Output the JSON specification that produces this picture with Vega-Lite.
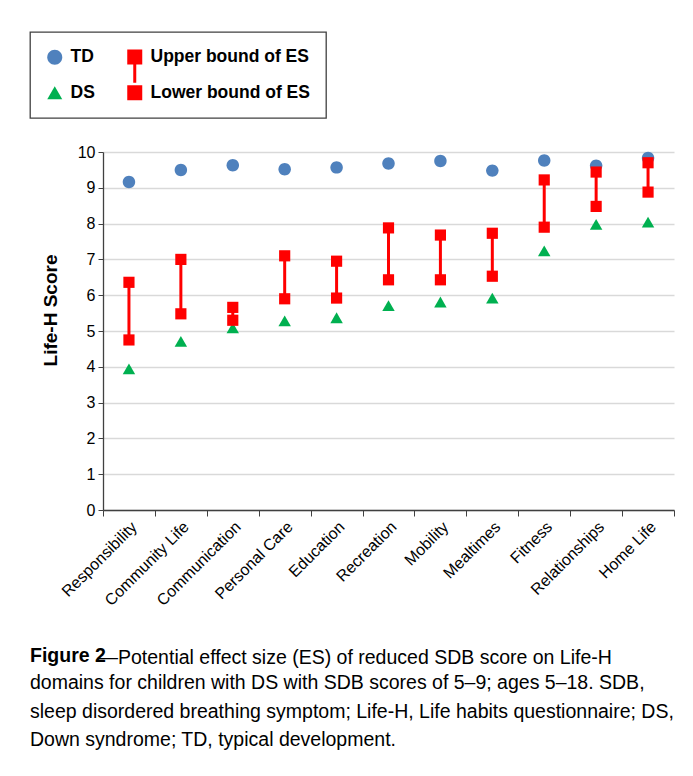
{
  "$schema": "https://vega.github.io/schema/vega-lite/v6.json",
  "width": 571,
  "height": 358,
  "autosize": {"type": "none"},
  "padding": {"left": 103, "top": 152, "right": 19, "bottom": 266},
  "background": "white",
  "data": {
    "values": [
      {"domain": "Responsibility", "TD": 9.16, "DS": 3.94, "Upper bound of ES": 6.36, "Lower bound of ES": 4.75},
      {"domain": "Community Life", "TD": 9.5, "DS": 4.71, "Upper bound of ES": 7.0, "Lower bound of ES": 5.48},
      {"domain": "Communication", "TD": 9.63, "DS": 5.09, "Upper bound of ES": 5.66, "Lower bound of ES": 5.3},
      {"domain": "Personal Care", "TD": 9.52, "DS": 5.28, "Upper bound of ES": 7.1, "Lower bound of ES": 5.9},
      {"domain": "Education", "TD": 9.57, "DS": 5.37, "Upper bound of ES": 6.95, "Lower bound of ES": 5.92},
      {"domain": "Recreation", "TD": 9.68, "DS": 5.71, "Upper bound of ES": 7.88, "Lower bound of ES": 6.43},
      {"domain": "Mobility", "TD": 9.75, "DS": 5.81, "Upper bound of ES": 7.68, "Lower bound of ES": 6.43},
      {"domain": "Mealtimes", "TD": 9.48, "DS": 5.92, "Upper bound of ES": 7.73, "Lower bound of ES": 6.53},
      {"domain": "Fitness", "TD": 9.76, "DS": 7.24, "Upper bound of ES": 9.22, "Lower bound of ES": 7.9},
      {"domain": "Relationships", "TD": 9.62, "DS": 7.98, "Upper bound of ES": 9.44, "Lower bound of ES": 8.48},
      {"domain": "Home Life", "TD": 9.83, "DS": 8.04, "Upper bound of ES": 9.7, "Lower bound of ES": 8.88}
    ]
  },
  "transform": [
    {"fold": ["TD", "DS", "Upper bound of ES", "Lower bound of ES"], "as": ["series", "score"]}
  ],
  "title": {
    "text": "Figure 2",
    "subtitle": [
      "domains for children with DS with SDB scores of 5–9; ages 5–18. SDB,",
      "sleep disordered breathing symptom; Life-H, Life habits questionnaire; DS,",
      "Down syndrome; TD, typical development."
    ],
    "orient": "bottom",
    "anchor": "start",
    "frame": "group",
    "dx": -73,
    "offset": -20,
    "font": "Liberation Sans",
    "fontSize": 19.5,
    "fontWeight": "bold",
    "color": "#000000",
    "subtitleFont": "Liberation Sans",
    "subtitleFontSize": 19.5,
    "subtitleFontWeight": "normal",
    "subtitleColor": "#000000",
    "subtitleLineHeight": 28.5,
    "subtitlePadding": 8
  },
  "encoding": {
    "x": {
      "field": "domain",
      "type": "nominal",
      "sort": null,
      "scale": {"paddingInner": 0, "paddingOuter": 0},
      "axis": {
        "title": "—Potential effect size (ES) of reduced SDB score on Life-H",
        "titleX": -5,
        "titleY": 153,
        "titleAlign": "left",
        "titleAnchor": null,
        "titleBaseline": "alphabetic",
        "titleAngle": 0,
        "titleFont": "Liberation Sans",
        "titleFontSize": 19.5,
        "titleFontWeight": "normal",
        "titleColor": "#000000",
        "tickBand": "extent",
        "labelAngle": -45,
        "labelAlign": "right",
        "labelBaseline": "middle",
        "labelOffset": 5,
        "labelPadding": 8,
        "labelFont": "Liberation Sans",
        "labelFontSize": 16,
        "labelColor": "#000000",
        "tickSize": 6,
        "tickColor": "#404040",
        "domainColor": "#404040",
        "grid": false
      }
    },
    "y": {
      "field": "score",
      "type": "quantitative",
      "scale": {"domain": [0, 10], "nice": false, "zero": true},
      "axis": {
        "title": "Life-H Score",
        "titleFont": "Liberation Sans",
        "titleFontSize": 19,
        "titleFontWeight": "bold",
        "titleColor": "#000000",
        "titleX": -43,
        "titleY": 158,
        "titleAlign": "center",
        "titleAngle": -90,
        "titleBaseline": "bottom",
        "values": [0, 1, 2, 3, 4, 5, 6, 7, 8, 9, 10],
        "tickCount": 20,
        "format": "d",
        "labelOverlap": false,
        "labelFont": "Liberation Sans",
        "labelFontSize": 16,
        "labelColor": "#000000",
        "labelPadding": 3,
        "tickSize": 5,
        "tickColor": "#404040",
        "domainColor": "#404040",
        "grid": true,
        "gridColor": "#d9d9d9"
      }
    }
  },
  "layer": [
    {
      "transform": [{"filter": {"field": "series", "equal": "Lower bound of ES"}}],
      "mark": {"type": "rule", "color": "#ff0000", "strokeWidth": 3},
      "encoding": {
        "y2": {"field": "Upper bound of ES"}
      }
    },
    {
      "transform": [{"filter": {"field": "series", "oneOf": ["TD", "DS"]}}],
      "mark": {"type": "point", "filled": true, "opacity": 1, "size": 155, "strokeWidth": 0},
      "encoding": {
        "color": {
          "field": "series",
          "type": "nominal",
          "scale": {
            "domain": ["TD", "Upper bound of ES", "DS", "Lower bound of ES"],
            "range": ["#4f81bd", "#ff0000", "#00b050", "#ff0000"]
          },
          "legend": {
            "title": null,
            "orient": "none",
            "legendX": -73,
            "legendY": -120,
            "columns": 2,
            "direction": "horizontal",
            "padding": 16,
            "strokeColor": "#404040",
            "fillColor": "#ffffff",
            "labelFont": "Liberation Sans",
            "labelFontSize": 17.5,
            "labelFontWeight": "bold",
            "labelColor": "#000000",
            "labelOffset": 7,
            "labelLimit": 300,
            "symbolSize": 225,
            "symbolOpacity": 1,
            "symbolStrokeWidth": 0,
            "rowPadding": 0,
            "columnPadding": 31
          }
        },
        "shape": {
          "field": "series",
          "type": "nominal",
          "scale": {
            "domain": ["TD", "Upper bound of ES", "DS", "Lower bound of ES"],
            "range": [
              "M1,0A1,1 0 1,1 -1,0A1,1 0 1,1 1,0Z M0,3.4",
              "M-1,-1H1V1H-1Z M-0.2,1H0.2V3.45H-0.2Z",
              "triangle-up",
              "square"
            ]
          },
          "legend": {
            "title": null,
            "orient": "none",
            "legendX": -73,
            "legendY": -120,
            "columns": 2,
            "direction": "horizontal"
          }
        }
      }
    },
    {
      "transform": [{"filter": {"field": "series", "oneOf": ["Upper bound of ES", "Lower bound of ES"]}}],
      "mark": {"type": "point", "filled": true, "opacity": 1, "size": 125, "shape": "square", "strokeWidth": 0},
      "encoding": {
        "color": {"field": "series", "type": "nominal"}
      }
    }
  ],
  "config": {
    "view": {"stroke": null},
    "font": "Liberation Sans",
    "axis": {"domainWidth": 1.3, "gridWidth": 1.4},
    "legend": {"strokeWidth": 1.3}
  }
}
